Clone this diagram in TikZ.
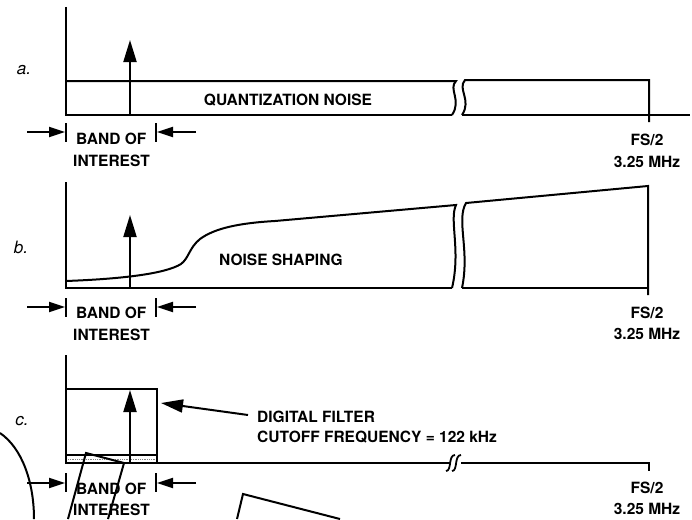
\documentclass[tikz,border=0pt]{standalone}
\usepackage{fontspec}
\setmainfont{TeX Gyre Heros}
\usetikzlibrary{arrows.meta}
\tikzset{
  ln/.style={line width=2pt, line join=miter},
  sig/.style={line width=2pt, -{Triangle[length=22pt,width=13pt]}},
  bandarr/.style={line width=1.8pt, -{Triangle[length=16pt,width=10pt]}},
  bar/.style={line width=1.6pt},
  lbl/.style={font=\fontsize{15.5}{18}\selectfont\bfseries, inner sep=0pt},
  plbl/.style={font=\fontsize{17}{18}\selectfont\itshape, inner sep=0pt},
  stray/.style={line width=2pt}
}
\begin{document}
\begin{tikzpicture}[x=1pt,y=-1pt]
\useasboundingbox (0,0) rectangle (692,519);

% ---------------- panel a ----------------
\node[plbl] (la) at (24,70) {a.};
\coordinate (aTop) at (66,7);
\coordinate (aO) at (66,115);
\draw[ln] (aTop) -- (aO) -- (452,115);
\draw[ln] (462,115) -- (690,115);
\draw[ln] (66,81) -- (456,81) .. controls (448,89) and (462,100) .. (452,115);
\draw[ln] (462,115) .. controls (472,100) and (457,89) .. (465,80) -- (649,80) -- (649,122);
\coordinate (aS) at (130,115);
\coordinate (aT) at (130,40);
\draw[sig] (aS) -- (aT);
\node[lbl] (qn) at (288,100) {QUANTIZATION NOISE};
% band of interest a
\draw[bar] (66,123) -- (66,142);
\draw[bar] (156,123) -- (156,142);
\coordinate (aL0) at (27,132); \coordinate (aL1) at (65,132);
\coordinate (aR0) at (196,132); \coordinate (aR1) at (157,132);
\draw[bandarr] (aL0) -- (aL1);
\draw[bandarr] (aR0) -- (aR1);
\node[lbl, anchor=west] (ba) at (76,139) {BAND OF};
\node[lbl, anchor=west] (ia) at (73,161) {INTEREST};
\node[lbl] (fa) at (647,140) {FS/2};
\node[lbl] (ma) at (647,162) {3.25 MHz};

% ---------------- panel b ----------------
\node[plbl] (lb) at (21,247) {b.};
\draw[ln] (66,182) -- (66,288) -- (452,288);
\draw[ln] (462,288) -- (648,288);
\draw[ln] (66,281) .. controls (120,279) and (165,274) .. (181,264)
  .. controls (189,258) and (189,248) .. (200,239)
  .. controls (215,228) and (240,223) .. (275,221) -- (456,205)
  .. controls (449,220) and (461,250) .. (452,288);
\draw[ln] (462,288) .. controls (470,250) and (456,220) .. (466,203) -- (648,186) -- (648,295);
\draw[sig] (130,288) -- (130,215);
\node[lbl, anchor=west] (ns) at (219,260) {NOISE SHAPING};
\draw[bar] (66,298) -- (66,317);
\draw[bar] (156,298) -- (156,317);
\draw[bandarr] (27,307) -- (65,307);
\draw[bandarr] (196,307) -- (157,307);
\node[lbl, anchor=west] (bb) at (76,313) {BAND OF};
\node[lbl, anchor=west] (ib) at (73,335) {INTEREST};
\node[lbl] (fb) at (647,313) {FS/2};
\node[lbl] (mb) at (647,334) {3.25 MHz};

% ---------------- panel c ----------------
\node[plbl] (lc) at (22,421) {c.};
\draw[ln] (66,355) -- (66,463) -- (450,463);
\draw[ln] (461,463) -- (649,463) -- (649,471);
\draw[ln] (66,463) rectangle (157,389);
\draw[ln] (66,455) -- (157,455);
\draw[densely dotted, gray, line width=0.8pt] (68,459) -- (155,459);
\draw[line width=1.8pt] (446,471) .. controls (452,471) and (448,455) .. (455,455);
\draw[line width=1.8pt] (452,471) .. controls (458,471) and (454,455) .. (461,455);
\draw[sig] (130,463) -- (130,390);
\node[lbl, anchor=west] (df) at (257,417) {DIGITAL FILTER};
\node[lbl, anchor=west] (cf) at (257,437) {CUTOFF FREQUENCY = 122 kHz};
\coordinate (pS) at (248,415);
\coordinate (pT) at (161,403);
\draw[sig] (pS) -- (pT);
\draw[bar] (66,473) -- (66,492);
\draw[bar] (156,473) -- (156,492);
\draw[bandarr] (27,483) -- (65,483);
\draw[bandarr] (196,483) -- (157,483);
\node[lbl, anchor=west] (bc) at (76,489) {BAND OF};
\node[lbl, anchor=west] (ic) at (73,510) {INTEREST};
\node[lbl] (fc) at (647,488) {FS/2};
\node[lbl] (mc) at (647,509) {3.25 MHz};

% ---------------- stray shapes ----------------
\draw[stray] (0,433) .. controls (22,448) and (34,482) .. (34,519);
\draw[stray] (68,519) -- (86,453) -- (124,463) -- (108,519);
\draw[stray] (237,519) -- (243,494) -- (340,519);
\end{tikzpicture}
\end{document}
